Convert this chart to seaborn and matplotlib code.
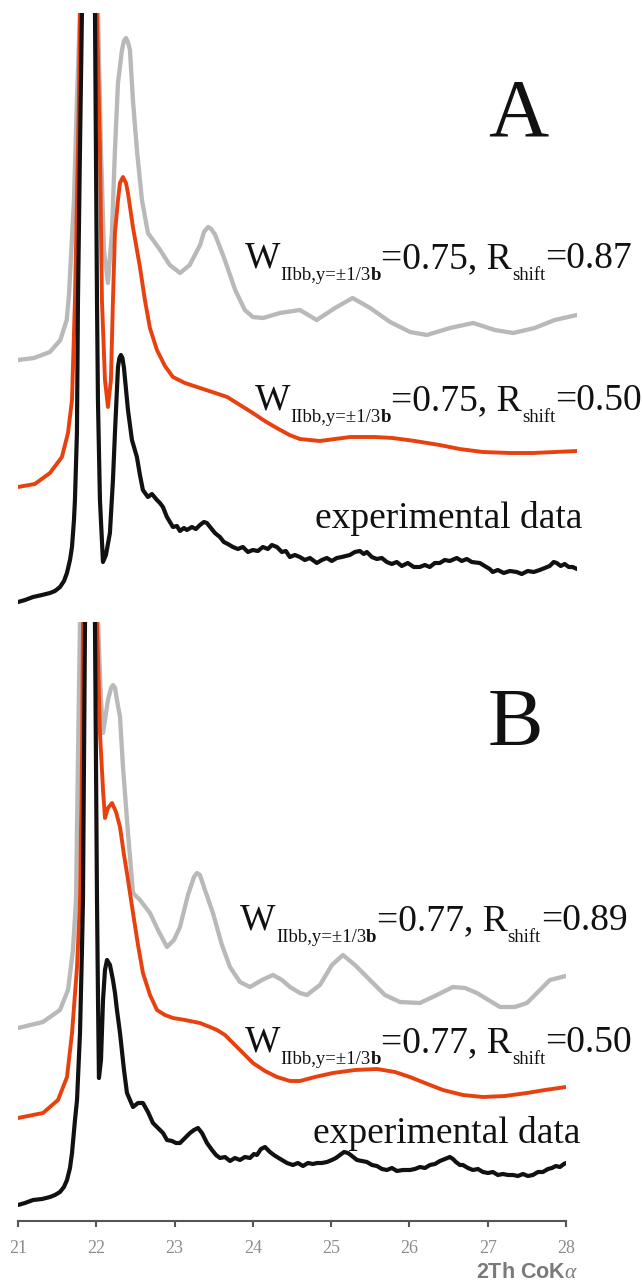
import matplotlib
matplotlib.use("Agg")
import matplotlib.pyplot as plt
import seaborn as sns

# ---------------- data (2Theta in degrees, stacked intensity in a.u.) ----------------
# Panel A, simulated W=0.75, Rshift=0.87 (grey)
A_SIM1_X = [21.000, 21.200, 21.400, 21.530, 21.610, 21.638, 21.701, 21.738, 21.776, 21.801,
            21.889, 21.976, 22.001, 22.039, 22.076, 22.126, 22.176, 22.214, 22.252, 22.302,
            22.327, 22.352, 22.377, 22.402, 22.439, 22.489, 22.552, 22.627, 22.690, 22.78,
            22.90, 23.03, 23.15, 23.28, 23.33, 23.38, 23.42, 23.47, 23.59, 23.72,
            23.84, 23.94, 24.07, 24.28, 24.53, 24.74, 24.97, 25.19, 25.41, 25.66,
            25.91, 26.12, 26.41, 26.70, 26.97, 27.20, 27.47, 27.72, 28.00]
A_SIM1_Y = [255, 257, 263, 275, 295, 320, 415, 515, 602, 760,
            1500, 760, 602, 465, 365, 332, 382, 465, 532, 565,
            574, 577, 573, 565, 515, 465, 415, 382, 375, 365,
            350, 342, 350, 370, 383, 388, 386, 380, 355, 325,
            305, 298, 297, 302, 305, 295, 307, 317, 307, 293,
            283, 280, 287, 292, 285, 282, 287, 295, 300]

# Panel A, simulated W=0.75, Rshift=0.50 (red)
A_SIM2_X = [21.000, 21.210, 21.400, 21.550, 21.626, 21.676, 21.713, 21.738, 21.763, 21.776,
            21.788, 21.889, 21.976, 21.989, 22.026, 22.051, 22.089, 22.126, 22.164, 22.189,
            22.214, 22.252, 22.277, 22.314, 22.352, 22.377, 22.439, 22.527, 22.589, 22.652,
            22.740, 22.84, 22.94, 23.09, 23.28, 23.47, 23.62, 23.78, 23.94, 24.09,
            24.24, 24.40, 24.53, 24.78, 25.16, 25.47, 25.69, 25.97, 26.28, 26.53,
            26.82, 27.16, 27.45, 27.72, 28.00]
A_SIM2_Y = [128, 131, 142, 158, 182, 215, 315, 415, 515, 602,
            760, 1500, 760, 602, 465, 315, 235, 208, 235, 315,
            382, 415, 432, 438, 432, 422, 388, 348, 315, 287,
            265, 249, 238, 232, 227, 222, 218, 210, 202, 194,
            187, 180, 176, 174, 178, 178, 177, 174, 170, 166,
            163, 162, 162, 163, 164]

# Panel A, experimental data (black)
A_EXP_X = [21.000, 21.088, 21.188, 21.300, 21.400, 21.463, 21.526, 21.576, 21.613, 21.651,
           21.676, 21.701, 21.713, 21.738, 21.751, 21.776, 21.801, 21.826, 21.889, 21.951,
           21.964, 21.976, 21.989, 22.001, 22.026, 22.064, 22.101, 22.151, 22.189, 22.214,
           22.252, 22.270, 22.289, 22.308, 22.327, 22.377, 22.427, 22.489, 22.527, 22.564,
           22.627, 22.677, 22.740, 22.777, 22.815, 22.865, 22.902, 22.940, 22.990, 23.028,
           23.078, 23.115, 23.178, 23.228, 23.278, 23.328, 23.365, 23.415, 23.466, 23.528,
           23.578, 23.628, 23.691, 23.753, 23.816, 23.879, 23.941, 24.004, 24.066, 24.129,
           24.179, 24.242, 24.304, 24.354, 24.404, 24.467, 24.529, 24.592, 24.655, 24.742,
           24.805, 24.867, 24.930, 24.992, 25.055, 25.155, 25.218, 25.280, 25.330, 25.368,
           25.431, 25.493, 25.556, 25.618, 25.681, 25.743, 25.806, 25.881, 25.956, 26.031,
           26.094, 26.157, 26.219, 26.282, 26.344, 26.407, 26.494, 26.557, 26.620, 26.682,
           26.782, 26.845, 26.907, 26.945, 27.008, 27.083, 27.158, 27.245, 27.308, 27.383,
           27.458, 27.533, 27.596, 27.658, 27.708, 27.746, 27.796, 27.846, 27.896, 27.946,
           28.000]
A_EXP_Y = [13, 15, 18, 20, 22, 24, 28, 34, 42, 55,
           68, 95, 115, 182, 315, 465, 602, 765, 1500, 765,
           602, 465, 315, 215, 115, 53, 60, 82, 135, 182,
           248, 257, 260, 257, 247, 205, 175, 158, 140, 125,
           118, 121, 115, 112, 108, 98, 93, 88, 89, 84,
           87, 85, 88, 86, 90, 93, 92, 87, 82, 78,
           73, 71, 68, 66, 68, 63, 65, 64, 68, 66,
           70, 68, 63, 64, 58, 60, 58, 55, 57, 52,
           55, 57, 54, 57, 58, 60, 63, 64, 61, 63,
           58, 56, 57, 53, 51, 53, 49, 52, 48, 48,
           50, 48, 52, 52, 55, 54, 57, 54, 56, 53,
           52, 49, 46, 43, 45, 42, 44, 43, 41, 44,
           43, 45, 47, 49, 53, 52, 49, 51, 48, 48,
           46]

# Panel B, simulated W=0.77, Rshift=0.89 (grey)
B_SIM1_X = [21.000, 21.319, 21.536, 21.639, 21.702, 21.741, 21.766, 21.792, 21.817, 21.920,
            21.996, 22.022, 22.060, 22.086, 22.149, 22.188, 22.213, 22.239, 22.264, 22.303,
            22.341, 22.405, 22.469, 22.558, 22.686, 22.788, 22.903, 22.992, 23.069, 23.171,
            23.248, 23.286, 23.324, 23.388, 23.490, 23.605, 23.708, 23.835, 23.963, 24.116,
            24.257, 24.372, 24.474, 24.602, 24.691, 24.857, 25.010, 25.151, 25.304, 25.457,
            25.687, 25.879, 26.134, 26.351, 26.556, 26.709, 26.862, 27.156, 27.347, 27.501,
            27.667, 27.794, 28.000]
B_SIM1_Y = [193, 199, 211, 231, 271, 321, 461, 599, 721, 1500,
            721, 599, 521, 488, 521, 533, 536, 533, 521, 504,
            454, 388, 328, 321, 308, 291, 274, 281, 294, 326,
            344, 348, 346, 331, 308, 276, 254, 239, 234, 241,
            246, 241, 234, 228, 226, 236, 256, 266, 256, 244,
            226, 219, 218, 226, 234, 233, 228, 214, 214, 218,
            231, 241, 245]

# Panel B, simulated W=0.77, Rshift=0.50 (red)
B_SIM2_X = [21.000, 21.319, 21.511, 21.626, 21.690, 21.754, 21.792, 21.817, 21.830, 21.856,
            21.920, 21.983, 22.009, 22.047, 22.086, 22.111, 22.149, 22.201, 22.252, 22.303,
            22.354, 22.392, 22.469, 22.533, 22.596, 22.686, 22.775, 22.877, 22.980, 23.133,
            23.324, 23.452, 23.542, 23.644, 23.746, 23.874, 24.001, 24.155, 24.308, 24.474,
            24.602, 24.793, 25.023, 25.304, 25.585, 25.815, 26.006, 26.198, 26.428, 26.683,
            26.939, 27.220, 27.501, 27.731, 28.000]
B_SIM2_Y = [103, 108, 121, 144, 188, 254, 321, 461, 599, 721,
            1500, 721, 599, 488, 431, 403, 413, 418, 409, 394,
            366, 348, 308, 276, 248, 226, 211, 206, 203, 201,
            198, 194, 191, 186, 178, 168, 158, 150, 144, 140,
            140, 144, 148, 151, 152, 149, 144, 138, 131, 126,
            124, 125, 128, 131, 134]

# Panel B, experimental data (black)
B_EXP_X = [21.000, 21.089, 21.192, 21.307, 21.409, 21.473, 21.536, 21.587, 21.626, 21.664,
           21.690, 21.728, 21.754, 21.792, 21.817, 21.830, 21.843, 21.856, 21.881, 21.920,
           21.958, 21.983, 21.996, 22.009, 22.022, 22.034, 22.060, 22.086, 22.111, 22.137,
           22.175, 22.213, 22.239, 22.264, 22.303, 22.354, 22.392, 22.430, 22.469, 22.533,
           22.596, 22.660, 22.724, 22.788, 22.852, 22.903, 22.967, 23.018, 23.069, 23.133,
           23.197, 23.248, 23.299, 23.350, 23.414, 23.478, 23.529, 23.580, 23.644, 23.708,
           23.771, 23.835, 23.899, 23.963, 24.014, 24.052, 24.103, 24.155, 24.218, 24.269,
           24.308, 24.372, 24.436, 24.512, 24.576, 24.640, 24.704, 24.768, 24.819, 24.883,
           24.946, 25.010, 25.061, 25.112, 25.164, 25.215, 25.266, 25.330, 25.393, 25.457,
           25.521, 25.585, 25.649, 25.713, 25.776, 25.840, 25.917, 26.006, 26.070, 26.134,
           26.198, 26.262, 26.326, 26.390, 26.453, 26.517, 26.556, 26.594, 26.645, 26.683,
           26.747, 26.811, 26.875, 26.939, 27.003, 27.066, 27.130, 27.194, 27.258, 27.322,
           27.386, 27.450, 27.513, 27.577, 27.641, 27.705, 27.769, 27.820, 27.871, 27.922,
           27.973, 28.000]
B_EXP_Y = [16, 18, 21, 22, 24, 26, 29, 34, 41, 53,
           68, 101, 121, 188, 271, 321, 461, 599, 771, 1500,
           771, 599, 461, 321, 221, 143, 161, 221, 251, 261,
           256, 241, 228, 211, 188, 151, 128, 121, 114, 118,
           118, 109, 98, 93, 88, 81, 80, 78, 78, 83,
           88, 91, 93, 88, 78, 71, 66, 63, 64, 60,
           63, 61, 64, 63, 67, 66, 72, 74, 69, 66,
           64, 61, 58, 56, 58, 55, 58, 57, 58, 58,
           59, 61, 63, 66, 69, 68, 65, 61, 60, 59,
           56, 55, 52, 51, 53, 50, 51, 51, 52, 54,
           53, 56, 57, 60, 62, 64, 62, 59, 56, 56,
           53, 51, 52, 49, 48, 49, 46, 47, 46, 46,
           45, 47, 45, 46, 49, 49, 52, 53, 55, 54,
           57, 58]

X_TICKS = [21, 22, 23, 24, 25, 26, 27, 28]
X_LABEL = "2Th CoK"
LABEL_A1 = [("W", "m"), ("IIbb,y=\u00b11/3", "s"), ("b", "sb"), ("=0.75, R", "m"), ("shift", "s"), ("=0.87", "m")]
LABEL_A2 = [("W", "m"), ("IIbb,y=\u00b11/3", "s"), ("b", "sb"), ("=0.75, R", "m"), ("shift", "s"), ("=0.50", "m")]
LABEL_B1 = [("W", "m"), ("IIbb,y=\u00b11/3", "s"), ("b", "sb"), ("=0.77, R", "m"), ("shift", "s"), ("=0.89", "m")]
LABEL_B2 = [("W", "m"), ("IIbb,y=\u00b11/3", "s"), ("b", "sb"), ("=0.77, R", "m"), ("shift", "s"), ("=0.50", "m")]
EXP_LABEL = "experimental data"

# ---------------- style ----------------
sns.set_style("white")
plt.rcParams["font.family"] = ["Liberation Serif", "DejaVu Serif"]
plt.rcParams["mathtext.fontset"] = "custom"
plt.rcParams["mathtext.it"] = "Liberation Serif:italic"
plt.rcParams["mathtext.rm"] = "Liberation Serif"

GREY = "#b9b9b9"
RED = "#e8410f"
BLACK = "#111111"
BIG = 27
SMALL = 13.5
SUB_DY = -2.8

W_PX, H_PX = 642, 1283
fig = plt.figure(figsize=(W_PX / 100, H_PX / 100), dpi=100)
fig.patch.set_facecolor("white")


def px_axes(x0, y0, x1, y1):
    ax = fig.add_axes([x0 / W_PX, 1 - y1 / H_PX, (x1 - x0) / W_PX, (y1 - y0) / H_PX])
    ax.set_facecolor("none")
    return ax


axA = px_axes(18, 13, 577, 615)
axB = px_axes(18, 622, 566, 1221)


def draw(ax, x, y, color, lw):
    sns.lineplot(x=x, y=y, ax=ax, color=color, linewidth=lw, estimator=None,
                 sort=False, legend=False, solid_joinstyle="round",
                 solid_capstyle="round")


draw(axA, A_SIM1_X, A_SIM1_Y, GREY, 3.1)
draw(axA, A_SIM2_X, A_SIM2_Y, RED, 2.8)
draw(axA, A_EXP_X, A_EXP_Y, BLACK, 3.0)
draw(axB, B_SIM1_X, B_SIM1_Y, GREY, 3.1)
draw(axB, B_SIM2_X, B_SIM2_Y, RED, 2.8)
draw(axB, B_EXP_X, B_EXP_Y, BLACK, 3.0)

for ax, top in ((axA, 602), (axB, 599)):
    ax.set_xlim(21, 28)
    ax.set_ylim(0, top)
    ax.set_xlabel("")
    ax.set_ylabel("")

axA.axis("off")
for s in ("left", "right", "top"):
    axB.spines[s].set_visible(False)
axB.spines["bottom"].set_color("#555555")
axB.spines["bottom"].set_linewidth(1.5)
axB.set_yticks([])
axB.set_xticks(X_TICKS)
axB.set_xticklabels([str(t) for t in X_TICKS], fontsize=13, color="#8c8c8c",
                    family="Liberation Serif")
axB.tick_params(axis="x", direction="out", length=4, width=1.5, color="#555555", pad=10,
                bottom=True)


def rich_label(ax, x, y, parts):
    first = ax.text(x, y, parts[0][0], fontsize=BIG, va="baseline", ha="left", color=BLACK)
    prev = first
    for txt, kind in parts[1:]:
        if kind == "m":
            prev = ax.annotate(txt, xy=(1, 0), xycoords=(prev, first), va="bottom",
                               ha="left", fontsize=BIG, color=BLACK)
        else:
            prev = ax.annotate(txt, xy=(1, 0), xycoords=(prev, first),
                               xytext=(0, SUB_DY), textcoords="offset points",
                               va="baseline", ha="left", fontsize=SMALL, color=BLACK,
                               fontweight="bold" if kind == "sb" else "normal")


rich_label(axA, 23.84, 347, LABEL_A1)
rich_label(axA, 23.97, 205, LABEL_A2)
axA.text(24.72, 87, EXP_LABEL, fontsize=BIG, va="baseline", ha="left", color=BLACK)
axA.text(27.27, 480, "A", fontsize=60, va="baseline", ha="center", color=BLACK)

rich_label(axB, 23.84, 291, LABEL_B1)
rich_label(axB, 23.90, 169, LABEL_B2)
axB.text(24.77, 78, EXP_LABEL, fontsize=BIG, va="baseline", ha="left", color=BLACK)
axB.text(27.36, 476, "B", fontsize=60, va="baseline", ha="center", color=BLACK)

fig.text(578 / W_PX, 1 - 1272 / H_PX, X_LABEL + r"$\alpha$", ha="right", va="center",
         fontsize=15.5, fontweight="bold", color="#7a7a7a", family="Liberation Sans")

fig.savefig("out.png", dpi=100, facecolor="white")
